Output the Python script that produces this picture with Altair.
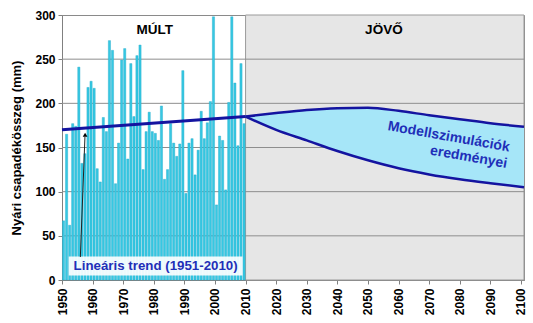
import altair as alt
import pandas as pd

# ---- data ----
years = list(range(1951, 2011))
precip = [67, 165, 62, 177, 174, 241, 132, 143, 218, 225,
          217, 126, 111, 184, 168, 271, 260, 109, 155, 249,
          262, 137, 245, 185, 254, 266, 125, 168, 190, 168,
          166, 158, 197, 114, 125, 177, 155, 140, 154, 237,
          98, 155, 160, 119, 147, 191, 160, 178, 202, 298,
          85, 163, 158, 102, 201, 298, 223, 152, 245, 177]

trend_years = [1950, 2010]
trend_vals = [170, 185]

model_years = [2010, 2020, 2030, 2040, 2050, 2060, 2070, 2080, 2090, 2101]
model_upper = [185, 189, 192.5, 194.5, 195, 191.5, 186.5, 182, 177.5, 173.5]
model_lower = [185, 170, 158, 146, 135.5, 126.5, 119.5, 114, 109.5, 105]

x_ticks = list(range(1950, 2101, 10))
y_ticks = [0, 50, 100, 150, 200, 250, 300]
grid_vals = [50, 100, 150, 200, 250]

FONT = "Liberation Sans"
BLUE_TXT = "#1F2FB8"
LINE_BLUE = "#1414A0"

xs = alt.Scale(domain=[1950, 2101], nice=False, zero=False)
ys = alt.Scale(domain=[0, 300], nice=False)

xa = alt.Axis(
    values=x_ticks, format="d", labelAngle=270, title=None, grid=False,
    labelFont=FONT, labelFontWeight="bold", labelFontSize=12, labelColor="black",
    tickColor="#808080", domainColor="#808080", tickSize=4, labelPadding=4)
ya = alt.Axis(
    values=y_ticks, title="Nyári csapadékösszeg (mm)", grid=False,
    labelFont=FONT, labelFontWeight="bold", labelFontSize=12, labelColor="black",
    titleFont=FONT, titleFontWeight="bold", titleFontSize=13, titleColor="black",
    titlePadding=11, tickColor="#808080", domainColor="#808080", tickSize=4, labelPadding=3)


def X(f):
    return alt.X(f, scale=xs, axis=xa)


def Y(f):
    return alt.Y(f, scale=ys, axis=ya)


bars_df = pd.DataFrame({"year": years, "p": precip})
bars_df["x0"] = bars_df["year"] - 1 + 0.14
bars_df["x1"] = bars_df["year"] - 0.14
trend_df = pd.DataFrame({"year": trend_years, "v": trend_vals})
model_df = pd.DataFrame({"year": model_years, "hi": model_upper, "lo": model_lower})
grid_df = pd.DataFrame({"g": grid_vals, "a": [1950] * 5, "b": [2101] * 5})

future = alt.Chart(pd.DataFrame({"a": [2010], "b": [2101], "lo": [0], "hi": [300]})).mark_rect(
    fill="#E6E6E6", stroke="#9A9A9A", strokeWidth=1
).encode(x=X("a:Q"), x2="b:Q", y=Y("lo:Q"), y2="hi:Q")

grid = alt.Chart(grid_df).mark_rule(color="#8E8E8E", strokeWidth=1).encode(
    y=Y("g:Q"), x=X("a:Q"), x2="b:Q"
)

bars = alt.Chart(bars_df).mark_rect(fill="#36C8E2", stroke="#20AACB", strokeWidth=0.4).encode(
    x=X("x0:Q"), x2="x1:Q", y=Y("p:Q"), y2=alt.datum(0),
)

box = alt.Chart(pd.DataFrame({"a": [1952.2], "b": [2009.0], "lo": [5.0], "hi": [26.5]})).mark_rect(
    fill="white", opacity=0.9
).encode(x=X("a:Q"), x2="b:Q", y=Y("lo:Q"), y2="hi:Q")

trend_label = alt.Chart(pd.DataFrame({"x": [1980.6], "y": [16], "t": ["Lineáris trend (1951-2010)"]})).mark_text(
    font=FONT, fontWeight="bold", fontSize=13.3, color=BLUE_TXT, baseline="middle", align="center"
).encode(x=X("x:Q"), y=Y("y:Q"), text="t:N")

arrow = alt.Chart(pd.DataFrame({"a": [1956.0], "b": [1957.5], "lo": [26], "hi": [162]})).mark_rule(
    color="#222222", strokeWidth=1
).encode(x=X("a:Q"), x2="b:Q", y=Y("lo:Q"), y2="hi:Q")

arrow_head = alt.Chart(pd.DataFrame({"x": [1957.55], "y": [164.5]})).mark_point(
    shape="triangle-up", filled=True, color="black", size=22, opacity=1
).encode(x=X("x:Q"), y=Y("y:Q"))

trend = alt.Chart(trend_df).mark_line(color=LINE_BLUE, strokeWidth=3).encode(
    x=X("year:Q"), y=Y("v:Q")
)

band = alt.Chart(model_df).mark_area(color="#A6E6F8", opacity=1, interpolate="monotone").encode(
    x=X("year:Q"), y=Y("hi:Q"), y2="lo:Q",
)
upper = alt.Chart(model_df).mark_line(color=LINE_BLUE, strokeWidth=2.5, interpolate="monotone").encode(
    x=X("year:Q"), y=Y("hi:Q")
)
lower = alt.Chart(model_df).mark_line(color=LINE_BLUE, strokeWidth=2.5, interpolate="monotone").encode(
    x=X("year:Q"), y=Y("lo:Q")
)

region_labels = alt.Chart(pd.DataFrame({"x": [1980.3, 2055.2], "y": [283, 283], "t": ["MÚLT", "JÖVŐ"]})).mark_text(
    font=FONT, fontWeight="bold", fontSize=13.5, color="black", baseline="middle", align="center"
).encode(x=X("x:Q"), y=Y("y:Q"), text="t:N")

model_labels = alt.Chart(pd.DataFrame({"x": [2076.4, 2082.9], "y": [162, 139],
                                       "t": ["Modellszimulációk", "eredményei"]})).mark_text(
    font=FONT, fontWeight="bold", fontSize=14, color=BLUE_TXT, baseline="middle", align="center", angle=10
).encode(x=X("x:Q"), y=Y("y:Q"), text="t:N")

chart = alt.layer(
    future, grid, bars, box, trend_label, arrow, arrow_head, trend,
    band, upper, lower, region_labels, model_labels
).properties(
    width=462, height=265,
    autosize=alt.AutoSizeParams(type="none"),
    padding={"left": 62, "top": 15, "right": 9, "bottom": 43},
    background="white",
).configure_view(stroke="#8A8A8A", strokeWidth=1)

chart.save("out.html", embed_options={"renderer": "svg", "actions": False})
